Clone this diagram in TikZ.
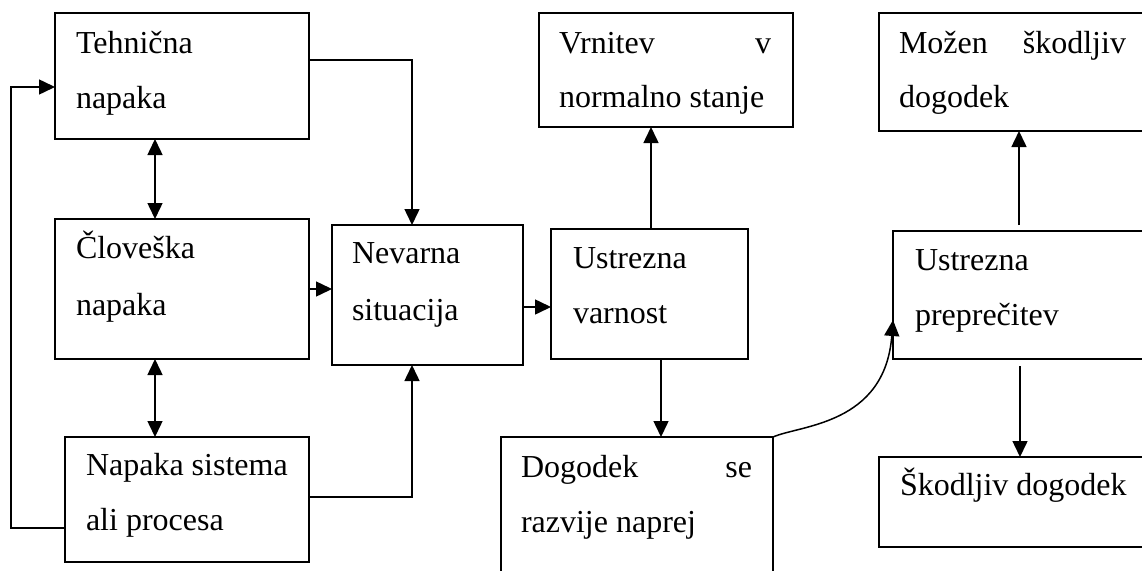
\documentclass[tikz,border=0pt]{standalone}
\usepackage{fontspec}
\setmainfont{Liberation Serif}
\usetikzlibrary{arrows.meta}
\begin{document}
\begin{tikzpicture}[x=1pt,y=-1pt,
  box/.style={draw, line width=1.5pt, rectangle, inner sep=0pt, outer sep=0pt, anchor=north west},
  txt/.style={inner sep=0pt, outer sep=0pt, anchor=base west, font=\fontsize{32}{38}\selectfont},
  arr/.style={-{Triangle[length=16pt,width=15pt]}, line width=1.5pt},
  darr/.style={{Triangle[length=16pt,width=15pt]}-{Triangle[length=16pt,width=15pt]}, line width=1.5pt}]
\useasboundingbox (0,0) rectangle (1142,570);
% boxes
\node[box, minimum width=254pt, minimum height=126pt] (A) at (55,13) {};
\node[box, minimum width=254pt, minimum height=140pt] (B) at (55,219) {};
\node[box, minimum width=244pt, minimum height=125pt] (C) at (65,437) {};
\node[box, minimum width=191pt, minimum height=140pt] (D) at (332,225) {};
\node[box, minimum width=254pt, minimum height=114pt] (E) at (539,13) {};
\node[box, minimum width=197pt, minimum height=130pt] (F) at (551,229) {};
\node[box, minimum width=272pt, minimum height=160pt] (G) at (501,437) {};
\node[box, minimum width=270pt, minimum height=118pt] (H) at (879,13) {};
\node[box, minimum width=260pt, minimum height=128pt] (I) at (893,231) {};
\node[box, minimum width=270pt, minimum height=90pt] (J) at (879,457) {};
% texts
\node[txt] (tA1) at (76,53) {Tehnična};
\node[txt] (tA2) at (76,108) {napaka};
\node[txt] (tB1) at (76,258) {Človeška};
\node[txt] (tB2) at (76,315) {napaka};
\node[txt] (tC1) at (86,475) {Napaka sistema};
\node[txt] (tC2) at (86,530) {ali procesa};
\node[txt] (tD1) at (352,263) {Nevarna};
\node[txt] (tD2) at (352,320) {situacija};
\node[txt] (tE1) at (559,53) {\makebox[212pt][s]{Vrnitev\hfill v}};
\node[txt] (tE2) at (559,107) {normalno stanje};
\node[txt] (tF1) at (573,268) {Ustrezna};
\node[txt] (tF2) at (573,323) {varnost};
\node[txt] (tG1) at (521,477) {\makebox[231pt][s]{Dogodek\hfill se}};
\node[txt] (tG2) at (521,532) {razvije naprej};
\node[txt] (tH1) at (899,53) {\makebox[227pt][s]{Možen\hfill škodljiv}};
\node[txt] (tH2) at (899,107) {dogodek};
\node[txt] (tI1) at (915,270) {Ustrezna};
\node[txt] (tI2) at (915,325) {preprečitev};
\node[txt] (tJ1) at (900,495) {Škodljiv dogodek};
% helper coordinates
\coordinate (l1) at (11,528);
\coordinate (l2) at (11,87);
\coordinate (t1) at (412,60);
\coordinate (b1) at (412,497);
\coordinate (ab) at (155,0);
\coordinate (bd) at (0,289);
\coordinate (df) at (0,307);
\coordinate (fe) at (651,0);
\coordinate (fg) at (661,0);
\coordinate (ih) at (1019,225);
\coordinate (ij) at (1020,366);
\coordinate (gi) at (893,320);
% connectors
\draw[arr] (C.west |- l1) -- (l1) -- (l2) -- (A.west |- l2);
\draw[arr] (A.east |- t1) -- (t1) -- (D.north -| t1);
\draw[arr] (C.east |- b1) -- (b1) -- (D.south -| b1);
\draw[darr] (A.south -| ab) -- (B.north -| ab);
\draw[darr] (B.south -| ab) -- (C.north -| ab);
\draw[arr] (B.east |- bd) -- (D.west |- bd);
\draw[arr] (D.east |- df) -- (F.west |- df);
\draw[arr] (F.north -| fe) -- (E.south -| fe);
\draw[arr] (F.south -| fg) -- (G.north -| fg);
\draw[arr] (G.north east) .. controls (800,425) and (885,425) .. (gi);
\draw[arr] (ih) -- (H.south -| ih);
\draw[arr] (ij) -- (J.north -| ij);
\end{tikzpicture}
\end{document}
